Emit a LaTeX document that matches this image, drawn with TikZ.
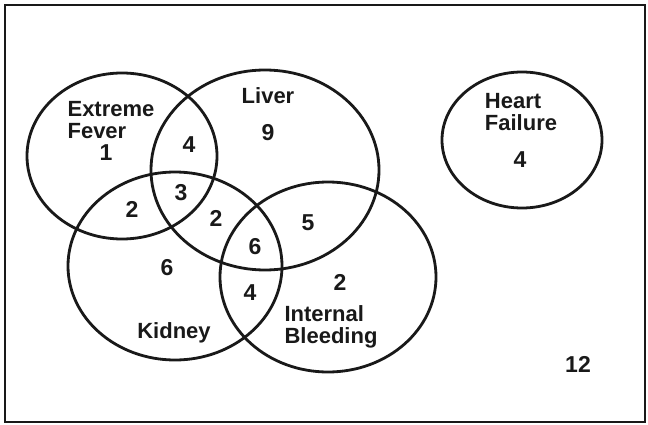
\documentclass[tikz,border=0pt]{standalone}
\usepackage{fontspec}
\setmainfont{Liberation Sans}
\usepackage{xcolor}
\usepackage{tikz}
\usetikzlibrary{shapes.geometric}

\begin{document}
\begin{tikzpicture}[
    x=1pt, y=-1pt,
    setshape/.style={draw=black!90, ellipse, line width=2.8pt, inner sep=0pt},
    lbl/.style={align=left, text=black!90, inner sep=0pt, font=\fontsize{22}{22}\selectfont\bfseries},
    count/.style={text=black!90, inner sep=0pt, font=\fontsize{23}{23}\selectfont\bfseries}
]
\useasboundingbox (0,0) rectangle (648,425);
\draw[black!90, line width=2pt] (5,5) rectangle (645,422);

% the five sets
\node[setshape, minimum width=190pt, minimum height=166pt] (fever) at (122,156) {};
\node[setshape, minimum width=228pt, minimum height=200pt] (liver) at (265,170) {};
\node[setshape, minimum width=214pt, minimum height=188pt] (kidney) at (175,266) {};
\node[setshape, minimum width=216pt, minimum height=190pt] (bleeding) at (328,277) {};
\node[setshape, minimum width=160pt, minimum height=136pt] (heart) at (522,140) {};

% set names
\node[lbl] (feverlbl) at (111,120) {Extreme\\Fever};
\node[lbl] (liverlbl) at (268,96) {Liver};
\node[lbl] (kidneylbl) at (174,333) {Kidney};
\node[lbl] (bleedinglbl) at (331,327) {Internal\\Bleeding};
\node[lbl] (heartlbl) at (521,112) {Heart\\Failure};

% counts
\node[count] (nf) at (106,153) {1};
\node[count] (nl) at (268,133) {9};
\node[count] (nfl) at (189,145) {4};
\node[count] (nflk) at (181,193) {3};
\node[count] (nfk) at (132,209) {2};
\node[count] (nlk) at (216,218) {2};
\node[count] (nlkb) at (255,247) {6};
\node[count] (nlb) at (308,223) {5};
\node[count] (nk) at (167,268) {6};
\node[count] (nkb) at (250,293) {4};
\node[count] (nb) at (340,282) {2};
\node[count] (nh) at (520,160) {4};
\node[count] (nnone) at (578,364) {12};
\end{tikzpicture}
\end{document}
